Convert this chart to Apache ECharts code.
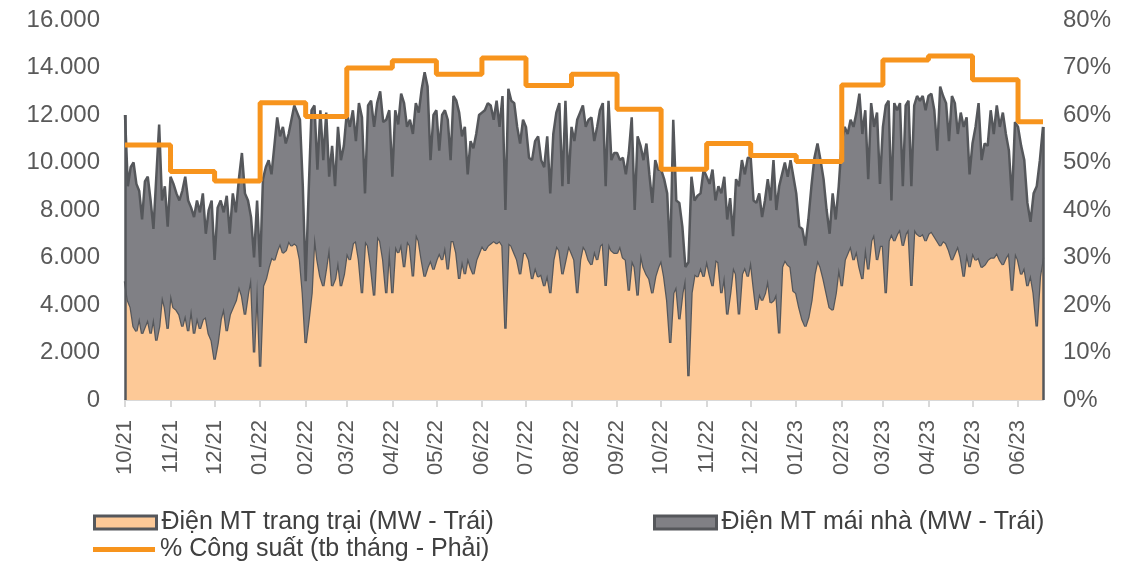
<!DOCTYPE html>
<html>
<head>
<meta charset="utf-8">
<script src="https://cdn.jsdelivr.net/npm/echarts@6/dist/echarts.min.js"></script>
<style>
  html, body { margin: 0; padding: 0; background: #fff; }
  #chart { width: 1138px; height: 565px; }
</style>
</head>
<body>
<div id="chart"></div>
<script>
// tháng (mỗi mảng con là các điểm đọc được trong tháng đó)
var months = ['2021-10','2021-11','2021-12','2022-01','2022-02','2022-03','2022-04','2022-05','2022-06','2022-07',
    '2022-08','2022-09','2022-10','2022-11','2022-12','2023-01','2023-02','2023-03','2023-04','2023-05','2023-06'];
var lastDay = '2023-06-18';

// Điện MT trang trại (nghìn MW)
var farmMW = [
    [5.0, 4.2, 3.9, 3.1, 2.9, 3.5, 2.8, 3.1, 3.4, 2.8, 3.5, 2.5, 3.1, 4.4, 3.9, 3.0],
    [4.5, 3.9, 3.8, 3.6, 3.1, 3.6, 2.9, 3.9, 2.8, 3.5, 3.0, 3.4, 3.5, 2.8, 2.5],
    [1.7, 2.4, 3.4, 3.9, 2.9, 3.6, 3.9, 4.2, 4.8, 4.4, 3.6, 4.5, 5.2, 2.0, 5.1],
    [1.4, 4.8, 5.1, 5.6, 6.0, 5.9, 6.3, 6.6, 6.2, 6.3, 6.7, 6.5, 6.6, 6.5, 5.9, 4.5],
    [2.4, 3.4, 4.5, 7.0, 5.9, 5.2, 4.8, 5.6, 6.5, 4.8, 5.1, 5.9, 4.8, 5.3],
    [6.2, 5.9, 6.6, 6.7, 5.9, 4.5, 6.7, 6.5, 5.6, 4.4, 6.9, 6.7, 5.9, 4.5, 6.5],
    [4.5, 6.5, 6.2, 6.6, 5.6, 6.7, 6.5, 5.2, 7.0, 6.7, 5.9, 5.2, 5.6, 5.9, 5.5],
    [5.9, 6.2, 5.9, 6.5, 5.5, 6.7, 6.7, 6.2, 5.1, 5.9, 5.3, 6.0, 5.6, 5.3, 5.9, 6.2],
    [6.5, 6.3, 6.5, 6.6, 6.7, 6.6, 6.7, 6.5, 3.0, 6.6, 6.5, 6.2, 5.9, 5.3, 6.2],
    [6.2, 5.9, 5.1, 5.6, 5.2, 5.3, 4.8, 5.3, 4.5, 5.9, 6.5, 6.3, 5.3, 5.9, 6.5],
    [6.2, 5.9, 4.5, 5.9, 6.5, 6.3, 5.9, 5.7, 6.3, 5.9, 6.5, 6.6, 4.8, 6.6, 6.3, 6.2],
    [6.2, 6.5, 6.0, 5.9, 4.6, 5.9, 5.6, 4.4, 6.2, 5.6, 5.3, 5.1, 4.5, 5.2, 5.6],
    [5.9, 5.2, 4.2, 2.4, 4.5, 4.8, 3.4, 4.5, 5.2, 1.0, 4.5, 5.3, 5.2, 5.6, 5.2],
    [5.9, 5.3, 4.8, 5.9, 5.8, 4.5, 5.3, 3.6, 4.5, 5.6, 5.3, 3.6, 5.3, 5.6, 5.2],
    [5.9, 4.8, 3.8, 4.5, 4.2, 4.5, 5.1, 4.1, 4.2, 4.5, 2.8, 5.6, 5.9, 5.7, 5.6, 4.6],
    [4.5, 3.9, 3.4, 3.1, 3.5, 4.2, 5.3, 5.9, 5.6, 5.1, 4.5, 3.9, 3.8, 4.5, 5.6],
    [4.8, 5.9, 6.2, 6.5, 5.9, 6.3, 5.6, 5.1, 6.5, 5.5, 6.7, 7.0, 5.9, 6.5],
    [6.5, 4.5, 6.7, 7.0, 6.7, 7.0, 7.2, 6.5, 7.0, 7.2, 4.8, 7.2, 7.0, 6.9, 7.0, 6.7],
    [7.0, 7.1, 6.9, 6.7, 6.5, 6.7, 6.6, 6.3, 5.9, 6.2, 6.5, 6.0, 5.2, 6.2, 5.6],
    [6.2, 5.9, 6.0, 5.6, 5.7, 5.9, 6.0, 6.0, 6.2, 5.9, 5.7, 6.0, 6.2, 4.6, 6.2],
    [5.9, 5.3, 5.6, 4.8, 5.3, 4.5, 3.1, 5.2, 6.0]
];

// Điện MT mái nhà (nghìn MW)
var roofMW = [
    [7.0, 4.8, 5.9, 6.9, 6.2, 5.3, 4.8, 6.1, 6.0, 5.6, 3.7, 6.9, 8.5, 4.0, 5.1, 4.3],
    [4.9, 5.2, 4.9, 4.8, 5.7, 5.8, 5.5, 4.2, 4.9, 4.9, 4.9, 5.3, 3.5, 5.2, 5.9],
    [4.2, 5.7, 5.0, 4.0, 5.7, 3.4, 4.8, 3.7, 4.5, 6.0, 5.1, 3.9, 2.5, 4.0, 3.3],
    [4.2, 4.5, 4.7, 4.5, 3.5, 4.8, 5.6, 4.5, 5.3, 4.5, 4.5, 5.3, 5.8, 5.6, 5.9, 4.5],
    [2.6, 5.3, 7.7, 5.4, 3.8, 7.0, 5.3, 6.5, 2.9, 5.9, 3.9, 5.6, 5.3, 5.4],
    [5.9, 5.6, 5.6, 4.2, 6.6, 7.4, 2.0, 5.9, 7.0, 7.1, 5.6, 6.3, 5.8, 7.3, 5.7],
    [4.9, 5.7, 5.4, 6.3, 6.9, 4.8, 5.3, 6.0, 5.5, 5.4, 7.2, 8.6, 7.6, 4.2, 6.5],
    [6.3, 4.3, 6.1, 5.7, 6.3, 3.4, 6.1, 6.4, 7.0, 5.2, 6.2, 3.5, 5.3, 5.3, 5.3, 5.8],
    [5.6, 5.9, 6.0, 5.8, 5.1, 6.0, 4.8, 6.3, 5.0, 6.5, 6.1, 6.3, 5.6, 5.5, 5.6],
    [5.3, 4.3, 5.0, 5.3, 5.9, 4.8, 5.0, 5.8, 4.2, 5.3, 5.6, 6.2, 3.7, 6.7, 2.6],
    [5.3, 5.0, 7.3, 6.2, 5.9, 5.2, 5.9, 6.2, 4.6, 5.6, 5.7, 5.9, 4.2, 6.0, 3.8, 4.2],
    [4.2, 3.6, 4.2, 3.6, 5.8, 6.0, 2.4, 6.7, 4.5, 4.5, 5.5, 4.4, 3.8, 4.9, 4.1],
    [3.8, 4.1, 4.5, 3.6, 7.3, 3.6, 4.9, 2.8, 0.4, 4.8, 4.9, 3.1, 3.4, 3.1, 4.5],
    [3.5, 3.8, 4.9, 2.5, 3.2, 4.2, 4.1, 4.0, 4.0, 1.3, 4.0, 5.4, 4.8, 3.9, 5.0],
    [4.3, 3.6, 4.5, 4.2, 3.5, 3.9, 4.2, 4.3, 5.9, 3.5, 6.2, 3.9, 4.1, 3.7, 4.5, 4.8],
    [4.2, 3.4, 3.8, 3.4, 4.1, 4.8, 4.9, 4.9, 4.5, 4.2, 3.5, 3.1, 4.9, 3.1, 3.4],
    [6.1, 5.6, 5.0, 5.3, 5.6, 5.8, 7.3, 6.1, 5.7, 3.8, 5.8, 4.5, 6.2, 2.6],
    [5.0, 7.9, 5.9, 1.4, 5.8, 5.2, 5.3, 2.5, 5.4, 5.4, 4.2, 5.2, 5.8, 5.7, 5.8, 5.5],
    [5.8, 5.8, 5.3, 3.8, 6.7, 6.1, 5.9, 4.6, 6.9, 6.3, 4.7, 6.1, 6.3, 5.7, 3.9],
    [4.6, 5.6, 6.5, 4.5, 5.1, 4.8, 6.2, 5.2, 6.2, 5.6, 6.4, 5.2, 4.3, 3.8, 5.5],
    [5.6, 5.4, 4.5, 3.5, 2.2, 4.2, 5.9, 4.9, 5.5]
];

// % Công suất, trung bình tháng
var capacityPct = [53.7, 48.1, 46.1, 62.6, 59.7, 69.9, 71.4, 68.6, 72.0, 66.2, 68.6,
    61.2, 48.6, 54.0, 51.5, 50.2, 66.3, 71.6, 72.4, 67.4, 58.6];

var yTicks = [0, 16000, 2000];
var pctTicks = [0, 80, 10];

var NAME_FARM = 'Điện MT trang trại (MW - Trái)';
var NAME_ROOF = 'Điện MT mái nhà (MW - Trái)';
var NAME_PCT = '% Công suất (tb tháng - Phải)';

var FONT = 'Liberation Sans, Arial, sans-serif';
var DAY = 86400000;

function toDate(s) {
    var p = s.split('-');
    return new Date(+p[0], +p[1] - 1, p[2] ? +p[2] : 1).getTime();
}

function monthStart(k) { return toDate(months[k]); }

// gan ngay cho tung diem trong thang
function buildSeries(src) {
    var out = [];
    var endT = toDate(lastDay);
    for (var k = 0; k < src.length; k++) {
        var s = monthStart(k);
        var n = src[k].length;
        var step;
        if (k < src.length - 1) step = (monthStart(k + 1) - s) / n;
        else step = (endT - s) / (n - 1);
        for (var i = 0; i < n; i++) {
            out.push([s + i * step, Math.round(src[k][i] * 1000)]);
        }
    }
    return out;
}

function dotThousands(v) {
    return String(v).replace(/\B(?=(\d{3})+(?!\d))/g, '.');
}

function pad(n) { return n < 10 ? '0' + n : '' + n; }

window.onload = function () {
    var farmData = buildSeries(farmMW);
    var roofData = buildSeries(roofMW);
    var pctData = capacityPct.map(function (v, k) { return [monthStart(k), v]; });
    var tEnd = toDate(lastDay);
    pctData.push([tEnd, capacityPct[capacityPct.length - 1]]);

    var first = 0, last = farmData.length - 1;
    var edge = [
        [{ coord: [farmData[first][0], 0] }, { coord: [farmData[first][0], farmData[first][1] + roofData[first][1]] }],
        [{ coord: [farmData[last][0], 0] }, { coord: [farmData[last][0], farmData[last][1] + roofData[last][1]] }]
    ];

    var chart = echarts.init(document.getElementById('chart'));

    var legendText = { fontSize: 25, color: '#404040', fontFamily: FONT };

    var option = {
        animation: false,
        textStyle: { fontFamily: FONT },
        grid: { left: 125, right: 95, top: 20, bottom: 165, containLabel: false, outerBoundsMode: 'none' },
        legend: [
            {
                left: 88, top: 505, itemWidth: 62, itemHeight: 13, selectedMode: false,
                textStyle: legendText,
                data: [{ name: NAME_FARM, icon: 'rect', itemStyle: { color: '#FDC997', borderColor: '#55575B', borderWidth: 3 } }]
            },
            {
                left: 648, top: 505, itemWidth: 62, itemHeight: 13, selectedMode: false,
                textStyle: legendText,
                data: [{ name: NAME_ROOF, icon: 'rect', itemStyle: { color: '#808085', borderColor: '#55575B', borderWidth: 3 } }]
            },
            {
                left: 88, top: 532, itemWidth: 62, itemHeight: 5, selectedMode: false,
                textStyle: legendText,
                data: [{ name: NAME_PCT, icon: 'rect', itemStyle: { color: '#F7941D', borderWidth: 0 } }]
            }
        ],
        xAxis: {
            type: 'time',
            min: monthStart(0),
            max: tEnd,
            splitNumber: 21,
            minInterval: 28 * DAY,
            maxInterval: 31 * DAY,
            axisLine: { lineStyle: { color: '#D9D9D9', width: 2 } },
            axisTick: { show: true, length: 7, lineStyle: { color: '#D9D9D9', width: 2 } },
            splitLine: { show: false },
            axisLabel: {
                rotate: 90, margin: 20, fontSize: 22, color: '#595959', fontFamily: FONT,
                showMinLabel: true, showMaxLabel: false, hideOverlap: false,
                formatter: function (val) {
                    var d = new Date(val);
                    return pad(d.getMonth() + 1) + '/' + String(d.getFullYear()).slice(2);
                }
            }
        },
        yAxis: [
            {
                type: 'value', min: yTicks[0], max: yTicks[1], interval: yTicks[2],
                axisLine: { show: false }, axisTick: { show: false }, splitLine: { show: false },
                axisLabel: { fontSize: 24, color: '#595959', margin: 25, fontFamily: FONT, formatter: dotThousands }
            },
            {
                type: 'value', min: pctTicks[0], max: pctTicks[1], interval: pctTicks[2],
                axisLine: { show: false }, axisTick: { show: false }, splitLine: { show: false },
                axisLabel: { fontSize: 24, color: '#595959', margin: 20, fontFamily: FONT, formatter: '{value}%' }
            }
        ],
        series: [
            {
                name: NAME_FARM, type: 'line', stack: 'mw', data: farmData,
                symbol: 'none', showSymbol: false,
                lineStyle: { color: '#55575B', width: 2.5 },
                itemStyle: { color: '#FDC997' },
                areaStyle: { color: '#FDC997', opacity: 1 },
                z: 2
            },
            {
                name: NAME_ROOF, type: 'line', stack: 'mw', data: roofData,
                symbol: 'none', showSymbol: false,
                lineStyle: { color: '#55575B', width: 2.5 },
                itemStyle: { color: '#808085' },
                areaStyle: { color: '#808085', opacity: 1 },
                markLine: {
                    silent: true, symbol: 'none', label: { show: false },
                    lineStyle: { color: '#55575B', width: 2.5, type: 'solid' },
                    data: edge
                },
                z: 3
            },
            {
                name: NAME_PCT, type: 'line', yAxisIndex: 1, step: 'end', data: pctData,
                symbol: 'none', showSymbol: false,
                lineStyle: { color: '#F7941D', width: 5 },
                itemStyle: { color: '#F7941D' },
                z: 5
            }
        ]
    };

    chart.setOption(option);
};
</script>
</body>
</html>
